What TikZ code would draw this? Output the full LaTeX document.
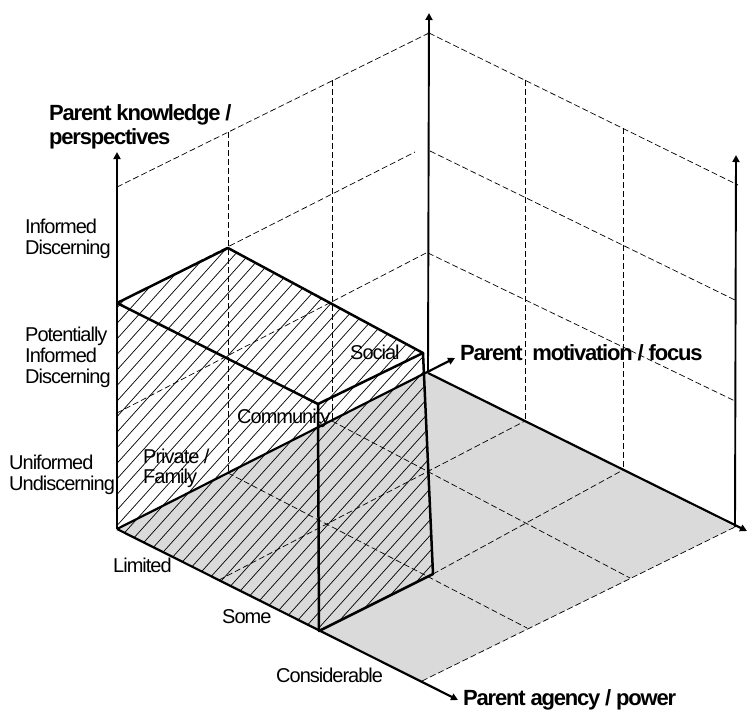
\documentclass[tikz,border=0pt]{standalone}
\usepackage{fontspec}
\setmainfont{Liberation Sans}
\newfontfamily\rfont{Liberation Sans}[LetterSpace=-5]
\newfontfamily\bfont{Liberation Sans}[LetterSpace=-5.5]
\usetikzlibrary{arrows.meta}
\definecolor{floorgray}{RGB}{218,218,218}
\begin{document}
\begin{tikzpicture}[x=1pt,y=-1pt,
  edge/.style={line width=2.5pt, line join=round, line cap=round},
  axis/.style={line width=2.2pt, -{Triangle[length=7pt,width=7pt]}},
  thinaxis/.style={line width=1.9pt, -{Triangle[length=7pt,width=7pt]}},
  gridline/.style={line width=0.7pt, dash pattern=on 6pt off 3pt},
  hatchline/.style={line width=0.7pt},
  lbl/.style={inner sep=0pt, anchor=base west, font=\rfont\fontsize{20}{21}\selectfont},
  blbl/.style={inner sep=0pt, anchor=base west, font=\bfont\bfseries\fontsize{22}{24}\selectfont},
]
\useasboundingbox (0,0) rectangle (748,713);
% key points
\coordinate (O) at (117,529);
\coordinate (Ktip) at (117,152);
\coordinate (B) at (117,303);
\coordinate (C) at (228,248);
\coordinate (D) at (423,353);
\coordinate (E) at (318,404);
\coordinate (F) at (319,631);
\coordinate (G) at (433,574);
\coordinate (M1) at (228,473);
\coordinate (M2) at (332,421);
\coordinate (M3) at (428,373);
\coordinate (Mtip) at (455,358);
\coordinate (A1) at (219,580);
\coordinate (A3) at (422,681);
\coordinate (Atip) at (458,700);
\coordinate (P2) at (735,527);
\coordinate (Rtip) at (747,531);
\coordinate (MidTip) at (429,13);
\coordinate (RightTip) at (736,155);
% back wall
\coordinate (W3a) at (117,187); \coordinate (W3b) at (429,33);
\coordinate (W1a) at (117,413); \coordinate (W1b) at (428,252);
\coordinate (W2b) at (415,152);
\coordinate (V1t) at (228,132); \coordinate (V2t) at (332,80);
% right wall
\coordinate (R3a) at (429,33);  \coordinate (R3b) at (738,185);
\coordinate (R2a) at (430,151); \coordinate (R2b) at (735,300);
\coordinate (R1a) at (428,253); \coordinate (R1b) at (735,401);
\coordinate (RV1t) at (525,80);  \coordinate (RV1b) at (525,421);
\coordinate (RV2t) at (623,128); \coordinate (RV2b) at (623,470);
% floor
\coordinate (F1e) at (527,628);
\coordinate (F2e) at (630,578);

% floor fill
\fill[floorgray] (O) -- (A3) -- (P2) -- (M3) -- cycle;

% hatching of the block
\begin{scope}
  \clip (O) -- (B) -- (C) -- (D) -- (G) -- (F) -- cycle;
  \foreach \t in {-320,-306,...,440}
    \draw[hatchline] (\t,700) -- (\t+630,0);
\end{scope}

% dashed grid: back wall
\draw[gridline] (W3a) -- (W3b);
\draw[gridline] (B) -- (W2b);
\draw[gridline] (W1a) -- (W1b);
\draw[gridline] (V1t) -- (M1);
\draw[gridline] (V2t) -- (M2);
% dashed grid: right wall
\draw[gridline] (R3a) -- (R3b);
\draw[gridline] (R2a) -- (R2b);
\draw[gridline] (R1a) -- (R1b);
\draw[gridline] (RV1t) -- (RV1b);
\draw[gridline] (RV2t) -- (RV2b);
% dashed grid: floor
\draw[gridline] (A1) -- (RV1b);
\draw[gridline] (G) -- (RV2b);
\draw[gridline] (A3) -- (P2);
\draw[gridline] (M1) -- (F1e);
\draw[gridline] (M2) -- (F2e);

% block edges
\draw[edge] (B) -- (C) -- (D) -- (E) -- cycle;
\draw[edge] (E) -- (F) -- (G) -- (D);

% axes
\draw[axis] (O) -- (Ktip);
\draw[axis] (O) -- (Atip);
\draw[axis] (O) -- (Mtip);
\draw[thinaxis] (M3) -- (MidTip);
\draw[thinaxis] (P2) -- (RightTip);
\draw[axis] (M3) -- (Rtip);

% labels
\node[blbl] (tk) at (49,120) {\vtop{\baselineskip=24pt\hbox{Parent knowledge /}\hbox{perspectives}}};
\node[blbl] (tm) at (460,360) {Parent\ \ motivation / focus};
\node[blbl] (ta) at (463,705) {Parent agency / power};
\node[lbl] (k3) at (25,233) {\vtop{\hbox{Informed}\hbox{Discerning}}};
\node[lbl] (k2) at (25,341) {\vtop{\hbox{Potentially}\hbox{Informed}\hbox{Discerning}}};
\node[lbl] (k1) at (9,469) {\vtop{\hbox{Uniformed}\hbox{Undiscerning}}};
\node[lbl] (m1) at (143,463) {\vtop{\baselineskip=20.5pt\hbox{Private /}\hbox{Family}}};
\node[lbl] (m2) at (237,423) {Community};
\node[lbl] (m3) at (350,359) {Social};
\node[lbl] (a1) at (113,572) {Limited};
\node[lbl] (a2) at (222,623) {Some};
\node[lbl] (a3) at (276,682) {Considerable};
\end{tikzpicture}
\end{document}
